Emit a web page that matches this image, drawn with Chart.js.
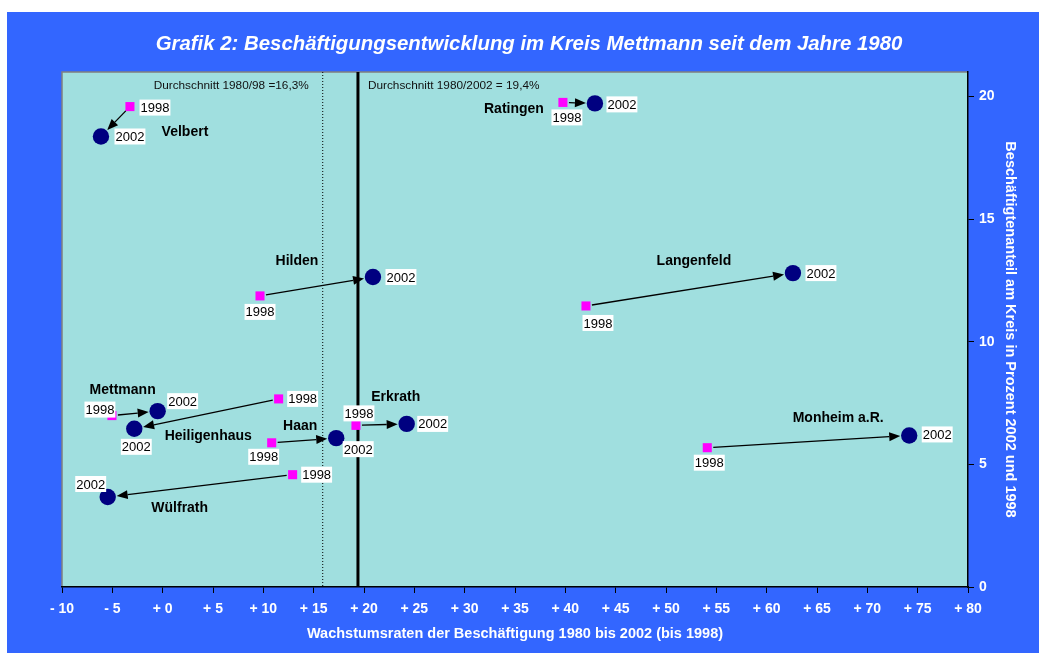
<!DOCTYPE html>
<html>
<head>
<meta charset="utf-8">
<script src="https://cdn.jsdelivr.net/npm/chart.js@4.4.1/dist/chart.umd.min.js"></script>
<style>
html, body { margin: 0; background: #fff; }
#wrap { position: absolute; left: 7px; top: 12px; width: 1032px; height: 641px; background: #3366ff; }
</style>
</head>
<body>
<div id="wrap"><canvas id="chart"></canvas></div>
<script>
// data
const cities = ['Velbert', 'Ratingen', 'Hilden', 'Langenfeld', 'Mettmann', 'Heiligenhaus', 'Haan', 'Erkrath', 'Wülfrath', 'Monheim a.R.'];
const growth1998 = [-3.25, 39.76, 9.67, 42.05, -5.04, 11.52, 10.83, 19.20, 12.91, 54.10];
const share1998  = [19.59, 19.76, 11.87, 11.46, 6.99, 7.67, 5.88, 6.59, 4.58, 5.68];
const growth2002 = [-6.13, 42.94, 20.89, 62.61, -0.50, -2.82, 17.24, 24.24, -5.46, 74.16];
const share2002  = [18.37, 19.72, 12.64, 12.80, 7.17, 6.45, 6.07, 6.65, 3.67, 6.18];
const avgValues = [15.9, 19.4];
const avgLabels = ['Durchschnitt 1980/98 =16,3%', 'Durchschnitt 1980/2002 = 19,4%'];
const xTicks = [-10, -5, 0, 5, 10, 15, 20, 25, 30, 35, 40, 45, 50, 55, 60, 65, 70, 75, 80];
const yTicks = [0, 5, 10, 15, 20];

// label placement (pixel offsets from the points)
const off1998 = [[25,1],[4,15],[0,16],[12,17],[-12,-6],[24,0],[-8,14],[3,-12],[24,0],[2,15]];
const off2002 = [[29,0],[27,1],[28,0],[28,0],[25,-10],[2,18],[22,11],[26,0],[-17,-13],[28,-1]];
const offName = [[84,-4],[-81,6],[-76,-16],[-99,-12],[-35,-21],[74,7],[-36,-12],[-11,-27],[72,11],[-71,-17]];

const FONT = 'Arial, "Liberation Sans", sans-serif';

function arrow(ctx, x1, y1, x2, y2, gapStart, gapEnd) {
  const a = Math.atan2(y2 - y1, x2 - x1);
  const c = Math.cos(a), s = Math.sin(a);
  const sx = x1 + c * gapStart, sy = y1 + s * gapStart;
  const ex = x2 - c * gapEnd, ey = y2 - s * gapEnd;
  const hl = 11, hw = 4.5;
  ctx.beginPath();
  ctx.moveTo(sx, sy);
  ctx.lineTo(ex - c * hl, ey - s * hl);
  ctx.stroke();
  ctx.beginPath();
  ctx.moveTo(ex, ey);
  ctx.lineTo(ex - c * hl - s * hw, ey - s * hl + c * hw);
  ctx.lineTo(ex - c * hl + s * hw, ey - s * hl - c * hw);
  ctx.closePath();
  ctx.fill();
}

function boxLabel(ctx, text, cx, cy) {
  ctx.font = '13px ' + FONT;
  const w = ctx.measureText(text).width + 2;
  ctx.fillStyle = '#fff';
  ctx.fillRect(cx - w / 2, cy - 8, w, 16);
  ctx.fillStyle = '#000';
  ctx.textAlign = 'center';
  ctx.textBaseline = 'middle';
  ctx.fillText(text, cx, cy + 1);
}

const decor = {
  id: 'decor',
  beforeDraw(chart) {
    const { ctx, chartArea: a } = chart;
    ctx.save();
    ctx.fillStyle = '#a0dfdf';
    ctx.fillRect(a.left, a.top, a.right - a.left, a.bottom - a.top);
    ctx.strokeStyle = '#808080';
    ctx.lineWidth = 1.5;
    ctx.beginPath();
    ctx.moveTo(a.left, a.bottom);
    ctx.lineTo(a.left, a.top);
    ctx.lineTo(a.right, a.top);
    ctx.stroke();
    ctx.fillStyle = '#fff';
    ctx.font = 'italic bold 20.4px ' + FONT;
    ctx.textAlign = 'center';
    ctx.textBaseline = 'middle';
    ctx.fillText('Grafik 2: Beschäftigungsentwicklung im Kreis Mettmann seit dem Jahre 1980', 522, 32);
    ctx.restore();
  },
  beforeDatasetsDraw(chart) {
    const { ctx, chartArea: a, scales: { x } } = chart;
    ctx.save();
    ctx.strokeStyle = '#000';
    // dotted 1980/98 line
    let px = x.getPixelForValue(avgValues[0]);
    ctx.lineWidth = 1;
    ctx.setLineDash([1, 2]);
    ctx.beginPath(); ctx.moveTo(px, a.top); ctx.lineTo(px, a.bottom); ctx.stroke();
    // solid 1980/2002 line
    px = x.getPixelForValue(avgValues[1]);
    ctx.setLineDash([]);
    ctx.lineWidth = 3;
    ctx.beginPath(); ctx.moveTo(px, a.top); ctx.lineTo(px, a.bottom); ctx.stroke();
    ctx.restore();
  },
  afterDatasetsDraw(chart) {
    const { ctx, chartArea: a, scales: { x, y } } = chart;
    ctx.save();
    // average labels
    ctx.fillStyle = '#111';
    ctx.font = '11.8px ' + FONT;
    ctx.textBaseline = 'middle';
    ctx.textAlign = 'right';
    ctx.fillText(avgLabels[0], x.getPixelForValue(avgValues[0]) - 14, a.top + 14);
    ctx.textAlign = 'left';
    ctx.fillText(avgLabels[1], x.getPixelForValue(avgValues[1]) + 10, a.top + 14);

    cities.forEach((name, i) => {
      const x1 = x.getPixelForValue(growth1998[i]), y1 = y.getPixelForValue(share1998[i]);
      const x2 = x.getPixelForValue(growth2002[i]), y2 = y.getPixelForValue(share2002[i]);
      ctx.strokeStyle = '#000';
      ctx.fillStyle = '#000';
      ctx.lineWidth = 1.3;
      arrow(ctx, x1, y1, x2, y2, 6, 9);
      boxLabel(ctx, '1998', x1 + off1998[i][0], y1 + off1998[i][1]);
      boxLabel(ctx, '2002', x2 + off2002[i][0], y2 + off2002[i][1]);
      ctx.fillStyle = '#000';
      ctx.font = 'bold 14px ' + FONT;
      ctx.textAlign = 'center';
      ctx.textBaseline = 'middle';
      ctx.fillText(name, x2 + offName[i][0], y2 + offName[i][1]);
    });
    ctx.restore();
  }
};

const tickFont = { family: FONT, size: 14, weight: 'bold' };
const titleFont = { family: FONT, size: 14.5, weight: 'bold' };

new Chart(document.getElementById('chart'), {
  type: 'scatter',
  data: {
    datasets: [
      {
        label: '1998',
        data: growth1998.map((v, i) => ({ x: v, y: share1998[i] })),
        pointStyle: 'rect',
        pointRadius: 6.4,
        backgroundColor: '#ff00ff',
        borderColor: '#ff00ff',
        borderWidth: 0
      },
      {
        label: '2002',
        data: growth2002.map((v, i) => ({ x: v, y: share2002[i] })),
        pointStyle: 'circle',
        pointRadius: 8.2,
        backgroundColor: '#000080',
        borderColor: '#000080',
        borderWidth: 0
      }
    ]
  },
  options: {
    responsive: true,
    maintainAspectRatio: false,
    animation: false,
    layout: { padding: { left: 55, top: 60, right: 0, bottom: 0 } },
    plugins: { legend: { display: false }, tooltip: { enabled: false } },
    scales: {
      x: {
        type: 'linear',
        position: 'bottom',
        min: -10, max: 80,
        afterBuildTicks: s => { s.ticks = xTicks.map(v => ({ value: v })); },
        afterFit: s => { s.height = 66; },
        grid: { drawOnChartArea: false, drawTicks: true, tickLength: 6, color: '#000' },
        border: { display: true, color: '#000', width: 1.5 },
        ticks: {
          color: '#fff', font: tickFont, padding: 8, maxRotation: 0, autoSkip: false,
          callback: v => (v < 0 ? '- ' + Math.abs(v) : '+ ' + v)
        },
        title: {
          display: true, text: 'Wachstumsraten der Beschäftigung 1980 bis 2002 (bis 1998)',
          color: '#fff', font: titleFont, padding: { top: 0, bottom: 10 }
        }
      },
      y: {
        type: 'linear',
        position: 'right',
        min: 0, max: 21,
        afterBuildTicks: s => { s.ticks = yTicks.map(v => ({ value: v })); },
        afterFit: s => { s.width = 71; },
        grid: { drawOnChartArea: false, drawTicks: true, tickLength: 6, color: '#000' },
        border: { display: true, color: '#000', width: 1.5 },
        ticks: { color: '#fff', font: tickFont, padding: 5 },
        title: {
          display: true, text: 'Beschäftigtenanteil am Kreis in Prozent 2002 und 1998',
          color: '#fff', font: titleFont, padding: { top: 20, bottom: 0 }
        }
      }
    }
  },
  plugins: [decor]
});
</script>
</body>
</html>
